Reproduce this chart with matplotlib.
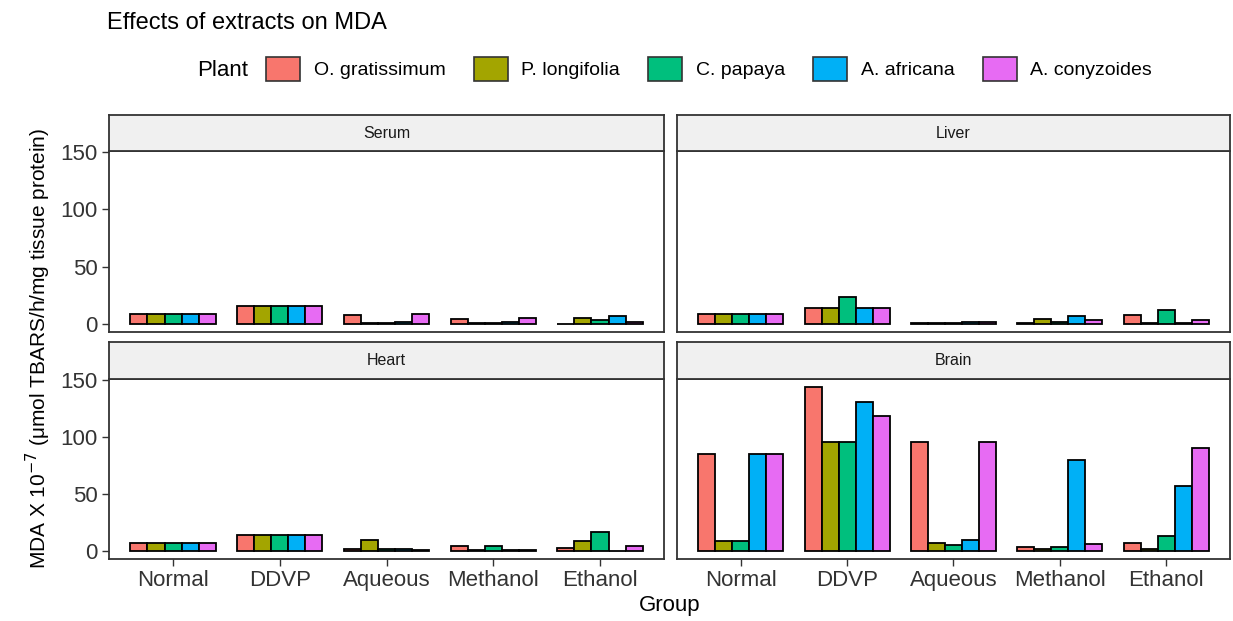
import numpy as np
import matplotlib.pyplot as plt
from matplotlib.patches import Patch

plt.rcParams['font.family'] = ['Liberation Sans', 'DejaVu Sans']

# data
groups = ["Normal", "DDVP", "Aqueous", "Methanol", "Ethanol"]
plants = ["O. gratissimum", "P. longifolia", "C. papaya", "A. africana", "A. conyzoides"]
colors = ["#F8766D", "#A3A500", "#00BF7D", "#00B0F6", "#E76BF3"]

serum = [[8.7, 16.0, 7.8, 4.3, 0.3],
         [8.7, 16.0, 0.5, 0.5, 5.0],
         [8.7, 16.0, 0.5, 0.5, 3.2],
         [8.7, 16.0, 2.0, 2.0, 6.7],
         [8.7, 16.0, 8.7, 5.2, 2.0]]
liver = [[8.7, 13.7, 0.5, 0.5, 8.1],
         [8.7, 13.7, 0.5, 4.4, 0.5],
         [8.7, 23.2, 0.5, 2.0, 12.5],
         [8.7, 13.7, 2.0, 6.7, 0.5],
         [8.7, 13.7, 2.0, 3.2, 3.2]]
heart = [[6.7, 14.0, 2.0, 4.6, 2.3],
         [6.7, 14.0, 9.3, 0.8, 9.0],
         [6.7, 14.0, 2.0, 4.6, 16.3],
         [6.7, 14.0, 2.0, 0.8, 0.3],
         [6.7, 14.0, 0.8, 0.8, 4.4]]
brain = [[85.0, 144.0, 95.3, 3.8, 7.2],
         [8.4, 95.3, 7.2, 1.4, 1.4],
         [8.4, 95.3, 4.9, 3.8, 13.3],
         [85.0, 131.0, 9.6, 80.2, 57.0],
         [85.0, 118.4, 95.3, 6.1, 90.6]]

panels = [("Serum", serum), ("Liver", liver), ("Heart", heart), ("Brain", brain)]

W, H = 1233, 621
fig = plt.figure(figsize=(W / 100, H / 100), dpi=100)

# panel geometry in pixels: (left, right), (strip top, axes top, axes bottom)
cols = [(109, 664), (677, 1230)]
rows = [(115, 151, 332), (342, 379, 559)]

x = np.arange(len(groups))
bw = 0.8 / len(plants)
edge = "#333333"

for k, (name, vals) in enumerate(panels):
    c0, c1 = cols[k % 2]
    s0, a0, a1 = rows[k // 2]
    ax = fig.add_axes([c0 / W, 1 - a1 / H, (c1 - c0) / W, (a1 - a0) / H])
    for i, p in enumerate(plants):
        ax.bar(x - 0.4 + bw * (i + 0.5), vals[i], width=bw, color=colors[i],
               edgecolor="black", linewidth=1.3)
    ax.set_xlim(-0.6, 4.6)
    ax.set_ylim(-7, 150.9)
    ax.set_yticks([0, 50, 100, 150])
    ax.set_xticks(x)
    for sp in ax.spines.values():
        sp.set_color(edge)
        sp.set_linewidth(1.3)
    ax.tick_params(colors=edge, length=5, width=1, labelsize=16, labelcolor="#333333", pad=3)
    if k % 2 == 0:
        ax.set_yticklabels(["0", "50", "100", "150"])
    else:
        ax.set_yticklabels([])
        ax.tick_params(axis="y", length=0)
    if k // 2 == 1:
        ax.set_xticklabels(groups)
    else:
        ax.set_xticklabels([])
        ax.tick_params(axis="x", length=0)
    # facet strip
    sx = fig.add_axes([c0 / W, 1 - a0 / H, (c1 - c0) / W, (a0 - s0) / H])
    sx.set_facecolor("#F0F0F0")
    sx.set_xticks([])
    sx.set_yticks([])
    for sp in sx.spines.values():
        sp.set_color(edge)
        sp.set_linewidth(1.3)
    sx.text(0.5, 0.5, name, ha="center", va="center", fontsize=11.5, color="#1A1A1A",
            transform=sx.transAxes)

fig.text(38 / W, 1 - 348 / H, r"MDA X 10$^{-7}$ ($\mathregular{\mu}$mol TBARS/h/mg tissue protein)",
         rotation=90, ha="center", va="center", fontsize=15)
fig.text(670 / W, 1 - 606 / H, "Group", ha="center", va="center", fontsize=16)
fig.text(107 / W, 1 - 23 / H, "Effects of extracts on MDA", ha="left", va="center", fontsize=17)

# legend on top, title inline
fig.text(197 / W, 1 - 70 / H, "Plant", ha="left", va="center", fontsize=16)
handles = [Patch(facecolor=c, edgecolor=edge, linewidth=1.2) for c in colors]
fig.legend(handles, plants, loc="center left", bbox_to_anchor=(266 / W, 1 - 69 / H),
           ncol=5, frameon=False, fontsize=14, handlelength=1.75, handleheight=1.6,
           handletextpad=0.7, columnspacing=1.45, borderaxespad=0, borderpad=0)

fig.savefig("out.png", dpi=100)
